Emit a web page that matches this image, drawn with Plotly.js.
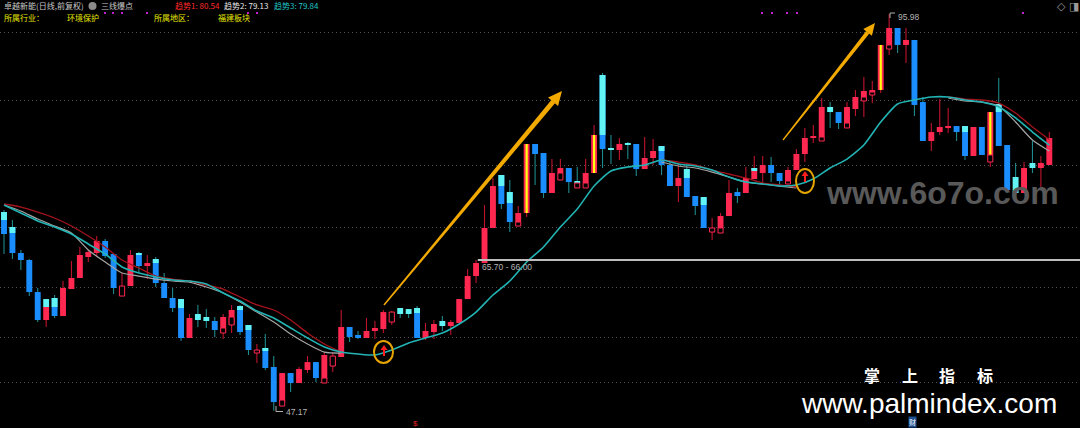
<!DOCTYPE html>
<html><head><meta charset="utf-8">
<script src="https://cdn.plot.ly/plotly-3.0.1.min.js"></script>
<style>html,body{margin:0;padding:0;background:#000;}#chart{width:1080px;height:428px;}</style>
</head><body><div id="chart"></div>
<script>
// ---------- data (prices) ----------
const openP = [71.62,69.78,66.58,65.72,61.78,58.34,61.05,58.83,62.15,63.51,
66.09,66.58,68.06,66.46,61.29,62.52,66.58,64.98,65.84,62.89,
61.05,60.92,56.13,59.08,58.71,58.22,56.86,57.73,60.06,57.73,
54.28,54.90,52.56,48.25,51.82,50.59,52.19,53.17,51.08,52.68,
53.79,57.48,56.50,56.13,56.99,57.23,58.09,59.82,59.69,59.82,
56.13,56.86,58.22,57.60,57.97,60.92,63.75,65.35,69.66,76.18,
74.08,70.39,71.50,79.99,78.88,73.96,76.42,77.04,75.44,75.19,
76.42,88.48,79.50,79.25,80.11,79.99,76.91,78.27,79.74,77.41,
74.82,76.91,73.59,73.47,69.16,69.66,71.13,74.08,73.96,75.68,
76.42,77.41,76.42,75.44,76.79,78.76,80.73,80.85,84.54,83.92,
82.57,84.29,85.77,86.38,86.63,92.17,94.26,92.17,92.78,85.15,
80.36,81.46,81.96,82.20,82.20,78.51,82.08,78.64,84.91,79.87,
75.93,73.96,77.65,77.04,77.41];
const highP = [71.87,70.64,66.95,65.84,62.28,60.92,61.42,63.14,65.60,67.32,
66.95,68.67,68.30,66.46,64.12,66.95,66.70,66.34,66.09,64.12,
62.28,60.92,59.08,60.19,59.69,58.71,59.08,60.19,60.19,57.73,
55.39,56.62,53.91,51.82,51.82,52.56,53.91,53.17,54.40,54.40,
59.57,57.48,56.99,58.59,58.22,59.57,59.45,59.82,59.69,60.06,
57.97,58.34,58.83,58.34,60.92,64.61,65.72,72.49,75.81,76.18,
75.56,72.36,79.99,79.99,78.88,78.14,78.14,77.04,77.16,78.14,
82.33,88.72,81.10,80.73,80.23,79.99,80.85,80.60,79.74,78.02,
77.65,77.41,73.59,73.47,70.89,71.50,75.56,74.58,77.16,78.51,
78.51,78.39,76.42,77.16,79.37,81.96,82.33,85.65,85.15,83.92,
85.15,86.63,88.23,87.74,92.17,95.98,94.26,94.26,92.78,85.77,
82.57,85.52,84.42,82.20,82.20,82.08,82.08,83.92,88.11,79.87,
77.65,77.77,80.36,78.51,81.46];
const lowP = [66.46,65.84,64.49,61.29,58.09,57.48,58.59,58.83,62.15,63.51,
65.47,66.09,65.97,61.54,61.29,62.52,64.24,63.38,62.40,61.05,
59.32,55.76,56.13,57.48,57.36,56.25,56.00,56.74,56.50,54.04,
53.05,52.19,47.17,47.76,49.48,50.59,51.82,50.71,50.59,51.94,
53.79,55.63,56.00,56.13,56.00,56.74,57.73,58.59,58.59,56.13,
55.88,56.00,56.99,56.50,57.97,60.92,62.89,65.35,69.66,71.99,
69.16,69.90,71.01,74.95,73.35,73.96,75.56,73.96,74.58,74.58,
76.42,77.04,77.53,78.02,78.14,76.05,76.91,77.41,76.18,74.82,
72.85,73.47,71.26,69.66,68.18,69.04,71.13,72.73,73.96,75.68,
75.19,75.31,74.95,75.07,76.79,77.77,80.11,80.36,81.96,81.83,
81.96,83.43,83.31,85.03,86.26,90.94,91.18,89.95,83.43,80.36,
79.13,81.10,81.34,80.36,78.02,78.51,78.64,77.16,79.74,73.96,
73.96,73.96,76.42,74.70,77.41];
const closeP = [68.92,66.58,65.72,61.78,58.34,59.94,58.83,62.28,63.51,66.34,
66.70,68.06,66.21,62.28,62.52,66.34,64.98,65.35,62.89,61.05,
59.82,56.13,58.59,58.34,58.22,57.11,58.71,59.57,56.86,54.65,
54.65,52.44,48.25,51.82,50.59,52.31,53.17,51.21,54.04,53.91,
57.48,56.25,56.13,56.99,57.36,59.32,59.32,59.08,59.08,56.13,
56.99,57.85,57.60,58.09,60.92,63.75,65.35,69.66,74.82,72.61,
70.39,71.50,79.99,78.76,73.96,76.42,77.04,75.31,75.19,76.42,
81.10,79.37,79.25,79.99,79.87,76.91,78.27,79.13,77.41,74.82,
75.81,73.47,72.36,69.66,69.66,71.13,73.96,73.59,75.81,77.04,
77.41,76.42,75.44,76.79,78.76,80.73,80.97,84.54,83.92,82.57,
84.54,85.77,86.51,86.63,92.17,94.26,92.17,92.78,84.79,80.36,
81.46,82.08,82.20,81.46,78.51,82.08,78.64,83.92,79.74,74.33,
73.96,77.04,77.04,77.65,80.73];
// candle style: r = red, b = blue, c = cyan, y = red with yellow core, h = hollow red
const kind = ['b','b','b','b','b','r','b','r','r','r',
'r','r','b','b','h','r','b','r','b','b',
'b','b','r','c','c','b','r','r','b','b',
'h','b','b','r','b','r','r','b','r','h',
'r','b','b','r','r','r','h','c','c','b',
'r','r','c','r','r','r','r','r','r','b',
'b','r','y','b','b','r','r','b','c','r',
'y','b','c','r','c','b','r','r','b','b',
'r','b','b','b','h','r','r','b','r','r',
'r','b','b','r','r','r','r','r','c','b',
'r','r','r','r','y','r','b','r','b','b',
'r','r','r','b','b','r','b','y','b','b',
'c','r','c','r','r'];
// cyan upper segments on some candles
const cyanIdx = [1,2,6,7,17,19,22,29,30,32,50,60,61,72,79,82,84,90,115,119];
const cyanTop = [71.62,69.78,60.92,61.05,66.58,65.84,60.92,60.06,57.73,54.90,59.82,76.18,74.08,88.48,79.74,76.91,73.47,77.04,82.20,84.91];
const cyanBot = [70.64,69.04,59.94,59.94,66.34,65.35,59.82,59.57,57.11,54.53,59.20,74.82,72.73,81.10,79.13,75.81,72.49,76.67,81.46,83.92];
// small hollow red boxes
const hollowIdx = [27,28,34,39,62,67,69,70,86,94,98,101,103,104,106,118];
const hollowTop = [57.36,58.71,48.50,51.21,70.39,76.42,75.19,75.19,69.66,75.44,80.85,82.57,85.77,86.38,92.17,78.64];
const hollowBot = [56.74,57.73,47.76,50.59,69.90,75.56,74.58,74.58,69.04,75.07,80.36,81.96,85.28,86.01,91.67,77.77];
// trend lines (趋势1 red, 趋势2 grey, 趋势3 cyan), sampled every second bar
const maX = [1,3,5,7,9,11,13,15,17,19,21,23,25,27,29,31,33,35,37,39,41,43,45,47,49,51,53,55,57,59,61,63,65,67,69,71,73,75,77,79,81,83,85,87,89,91,93,95,97,99,101,103,105,107,109,111,113,115,117,119,121,123,125];
const trend3 = [72.49,71.50,70.52,69.78,68.92,67.69,66.46,64.86,64.12,63.63,
63.26,63.14,62.77,61.66,60.68,59.45,58.59,57.36,56.13,55.02,
54.40,54.16,54.04,54.65,55.51,56.13,56.74,57.85,59.32,61.42,
63.14,65.47,67.32,69.78,71.99,74.82,76.67,77.16,77.41,78.02,
77.53,77.28,76.79,75.93,75.31,75.07,74.82,74.95,75.68,77.04,
78.14,79.87,82.69,84.91,85.40,85.77,85.77,85.40,85.15,84.54,
83.19,81.46,79.84];
const trend1 = [72.61,72.24,71.62,70.89,69.90,68.67,67.32,65.72,64.74,63.75,
63.38,63.14,62.64,62.15,61.17,60.19,59.57,58.34,56.74,55.39,
54.40,null,null,null,null,null,null,null,null,null,
null,null,null,null,null,null,null,null,null,78.02,
77.77,77.41,76.79,76.30,75.81,75.19,74.95,74.70,null,null,
null,null,null,null,null,null,85.77,85.52,85.40,85.03,
83.80,82.08,80.54];
const trend2 = [72.49,71.75,70.76,69.90,69.04,66.95,65.47,64.12,63.75,63.38,
63.14,63.01,62.40,61.66,60.55,59.32,58.09,56.62,55.39,54.40,
54.28,null,null,null,null,null,null,null,null,null,
null,null,null,null,null,null,null,null,null,77.77,
77.28,77.04,76.54,75.93,75.31,75.07,74.82,74.58,null,null,
null,null,null,null,null,null,85.65,85.28,85.15,84.66,
82.69,80.48,79.13];
const gridPrices = [93.76,85.28,77.40,69.66,62.40,56.25,50.71];
const priceLine = 65.72;
const labels = {high:'95.98', low:'47.17', range:'65.70 - 66.00', t1:'趋势1: 80.54', t2:'趋势2: 79.13', t3:'趋势3: 79.84'};

// ---------- build ----------
const W = 1080, H = 428;
const N = openP.length;
const xs = openP.map((_, i) => i + 1);
const sel = f => { const o = []; for (let i = 0; i < N; i++) if (f(i)) o.push(i); return o; };
const isRed = i => kind[i] === 'r' || kind[i] === 'y' || kind[i] === 'h';
const skip = {hoverinfo: 'skip', showlegend: false};

function wick(ids, color) {
  return Object.assign({type: 'bar', x: ids.map(i => xs[i]), base: ids.map(i => lowP[i]),
    y: ids.map(i => highP[i] - lowP[i]), width: 0.13, marker: {color: color, line: {width: 0}}}, skip);
}
function body(ids, color, w, lineColor) {
  return Object.assign({type: 'bar', x: ids.map(i => xs[i]),
    base: ids.map(i => Math.min(openP[i], closeP[i])),
    y: ids.map(i => Math.max(Math.abs(closeP[i] - openP[i]), 0.15)), width: w,
    marker: {color: color, line: {width: lineColor ? 1 : 0, color: lineColor || color}}}, skip);
}
const traces = [
  wick(sel(i => isRed(i)), '#c0142e'),
  wick(sel(i => !isRed(i)), '#1f8a8c'),
  body(sel(i => kind[i] === 'r' || kind[i] === 'y'), '#ff2851', 0.7),
  body(sel(i => kind[i] === 'b'), '#1b8eff', 0.7),
  body(sel(i => kind[i] === 'c'), '#62f4f4', 0.7),
  body(sel(i => kind[i] === 'y'), '#ffff10', 0.26),
  Object.assign({type: 'bar', x: cyanIdx, base: cyanBot, y: cyanTop.map((t, k) => t - cyanBot[k]),
    width: 0.7, marker: {color: '#62f4f4', line: {width: 0}}}, skip),
  body(sel(i => kind[i] === 'h'), '#000000', 0.62, '#ff2851'),
  Object.assign({type: 'bar', x: hollowIdx, base: hollowBot, y: hollowTop.map((t, k) => t - hollowBot[k]),
    width: 0.6, marker: {color: '#000000', line: {width: 1, color: '#ff2851'}}}, skip),
  Object.assign({type: 'scatter', mode: 'lines', x: maX, y: trend2, connectgaps: false,
    line: {color: '#a4a4a4', width: 1.2, shape: 'spline', smoothing: 0.6}}, skip),
  Object.assign({type: 'scatter', mode: 'lines', x: maX, y: trend1, connectgaps: false,
    line: {color: '#a3141c', width: 1.3, shape: 'spline', smoothing: 0.6}}, skip),
  Object.assign({type: 'scatter', mode: 'lines', x: maX, y: trend3, connectgaps: false,
    line: {color: '#22b4b4', width: 1.6, shape: 'spline', smoothing: 0.6}}, skip)
];

// ---------- decorations (pixel helpers) ----------
const PX = x => x / W, PY = y => 1 - y / H;
function arrowShape(tx, ty, hx, hy, w0, w1, hl, hw, color) {
  const dx = hx - tx, dy = hy - ty, L = Math.hypot(dx, dy), ux = dx / L, uy = dy / L, nx = -uy, ny = ux;
  const bx = hx - ux * hl, by = hy - uy * hl;
  const s = [[tx + nx * w0 / 2, ty + ny * w0 / 2], [bx + nx * w1 / 2, by + ny * w1 / 2],
             [bx - nx * w1 / 2, by - ny * w1 / 2], [tx - nx * w0 / 2, ty - ny * w0 / 2]];
  const h = [[hx, hy], [bx + nx * hw / 2, by + ny * hw / 2], [bx - nx * hw / 2, by - ny * hw / 2]];
  const f = p => PX(p[0]).toFixed(5) + ',' + PY(p[1]).toFixed(5);
  return {type: 'path', xref: 'paper', yref: 'paper', layer: 'above',
    path: 'M' + s.map(f).join(' L') + ' Z M' + h.map(f).join(' L') + ' Z',
    fillcolor: color, line: {width: 0}};
}
function ring(x0, y0, x1, y1) {
  return {type: 'circle', xref: 'paper', yref: 'paper', x0: PX(x0), x1: PX(x1), y0: PY(y1), y1: PY(y0),
    line: {color: '#e6a400', width: 2}, layer: 'above'};
}
function seg(x0, y0, x1, y1, color, w) {
  return {type: 'line', xref: 'paper', yref: 'paper', x0: PX(x0), y0: PY(y0), x1: PX(x1), y1: PY(y1),
    line: {color: color, width: w || 1}, layer: 'above'};
}
function dot(x, y, c) {
  return {type: 'rect', xref: 'paper', yref: 'paper', x0: PX(x - 1), x1: PX(x + 1), y0: PY(y + 1), y1: PY(y - 1),
    fillcolor: c, line: {width: 0}, layer: 'above'};
}
const shapes = [
  {type: 'line', xref: 'x', yref: 'y', x0: 57.2, x1: 140, y0: priceLine, y1: priceLine,
    line: {color: '#bdbdbd', width: 2}, layer: 'above'},
  arrowShape(384, 305, 562, 91, 1.5, 5, 14, 13, '#f2a900'),
  arrowShape(783, 140, 875, 23, 1.3, 4, 12, 11, '#f2a900'),
  ring(374, 341, 393, 363),
  ring(796, 169, 814, 193),
  arrowShape(384, 356, 384, 345, 2, 2, 5, 7, '#ff1f1f'),
  arrowShape(805, 182, 805, 171, 2, 2, 5, 7, '#ff1f1f'),
  seg(276, 406, 276, 411.5, '#b0b0b0'), seg(276, 411.5, 283, 411.5, '#b0b0b0'),
  seg(890, 18, 890, 13, '#b0b0b0'), seg(890, 13, 895, 13, '#b0b0b0'),
  {type: 'circle', xref: 'paper', yref: 'paper', x0: PX(88.5), x1: PX(96.5), y0: PY(10), y1: PY(2),
    fillcolor: '#8c8c8c', line: {width: 0}, layer: 'above'}
];
[105, 113, 122, 147, 248, 257, 762, 772, 787, 797, 1023].forEach(x => shapes.push(dot(x, 13, '#c020d0')));

const CJK = 'Noto Sans CJK SC, Noto Sans, sans-serif';
function txt(text, x, y, color, size, anchor, family, extra) {
  return Object.assign({xref: 'paper', yref: 'paper', x: PX(x), y: PY(y), text: text, showarrow: false,
    xanchor: anchor || 'left', yanchor: 'middle', font: {color: color, size: size, family: family || CJK}}, extra || {});
}
const annotations = [
  txt('卓越新能(日线,前复权)', 2, 6, '#c8c8c8', 8),
  txt('三线爆点', 99, 6, '#c8c8c8', 8),
  txt(labels.t1, 173, 6, '#ff2a2a', 8),
  txt(labels.t2, 222, 6, '#e8e8e8', 8),
  txt(labels.t3, 272, 6, '#1fc6c6', 8),
  txt('所属行业：', 2, 18, '#e8e800', 8),
  txt('环境保护', 65, 18, '#e8e800', 8),
  txt('所属地区：', 152, 18, '#e8e800', 8),
  txt('福建板块', 216, 18, '#e8e800', 8),
  txt(labels.high, 896, 17, '#b4b4b4', 8.5, 'left', 'Liberation Sans, sans-serif'),
  txt(labels.low, 284, 411.5, '#b4b4b4', 8.5, 'left', 'Liberation Sans, sans-serif'),
  txt(labels.range, 480, 267, '#b4b4b4', 8.5, 'left', 'Liberation Sans, sans-serif'),
  txt('<b>www.6o7o.com</b>', 942, 193, '#595959', 32, 'center', 'Liberation Sans, sans-serif'),
  txt('<b>掌</b>', 872, 375, '#ffffff', 16, 'center'),
  txt('<b>上</b>', 910, 375, '#ffffff', 16, 'center'),
  txt('<b>指</b>', 947, 375, '#ffffff', 16, 'center'),
  txt('<b>标</b>', 985, 375, '#ffffff', 16, 'center'),
  txt('www.palmindex.com', 929, 403, '#ffffff', 28, 'center', 'Liberation Sans, sans-serif'),
  txt('$', 415, 423, '#e02020', 8, 'center', 'Liberation Sans, sans-serif'),
  txt('财', 912, 422, '#ffffff', 7, 'center', CJK, {bgcolor: '#1d4f8f', borderpad: 0}),
  txt('◇', 1061, 7, '#9a9a9a', 11, 'center', 'DejaVu Sans, sans-serif'),
  txt('◨', 1074, 7, '#9a9a9a', 11, 'center', 'DejaVu Sans, sans-serif')
];

const layout = {
  width: W, height: H, margin: {l: 0, r: 0, t: 0, b: 0, pad: 0},
  paper_bgcolor: '#000', plot_bgcolor: '#000', showlegend: false, barmode: 'overlay',
  xaxis: {range: [0.526, 128.64], showgrid: false, zeroline: false, showticklabels: false, ticks: '', showline: false, fixedrange: true},
  yaxis: {range: [45.06, 97.70], tickvals: gridPrices, showticklabels: false, ticks: '', gridcolor: '#505050',
    griddash: '1px,3px', gridwidth: 1, zeroline: false, showline: false, fixedrange: true},
  shapes: shapes, annotations: annotations, hovermode: false
};
Plotly.newPlot('chart', traces, layout, {displayModeBar: false, staticPlot: true});
</script></body></html>
